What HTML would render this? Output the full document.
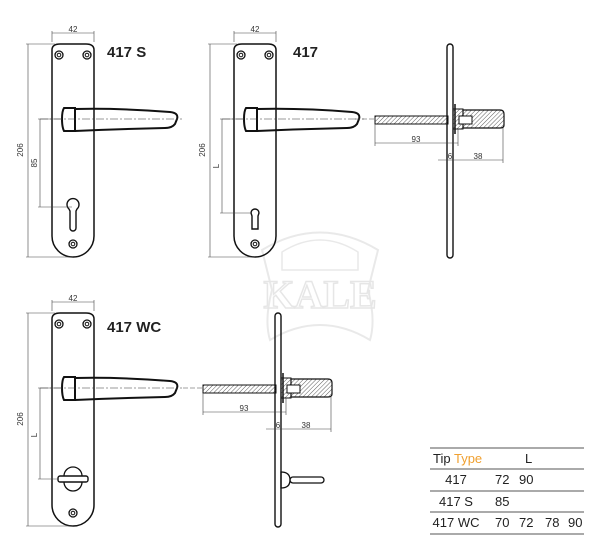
<!DOCTYPE html>
<html><head><meta charset="utf-8"><style>
html,body{margin:0;padding:0;background:#fff;}
svg{display:block;}
.t{font-family:"Liberation Sans",sans-serif;}
</style></head><body>
<svg width="600" height="551" viewBox="0 0 600 551" xmlns="http://www.w3.org/2000/svg">
<defs>
<pattern id="h" width="3" height="3" patternUnits="userSpaceOnUse" patternTransform="rotate(45)">
<line x1="0" y1="0" x2="0" y2="3" stroke="#333" stroke-width="0.8"/>
</pattern>
<g id="plate">
<path d="M52,50 Q52,44 60,44 L86,44 Q94,44 94,50 L94,236 A21,21 0 0 1 52,236 Z" fill="none" stroke="#111" stroke-width="1.5"/>
<circle cx="59" cy="55" r="4" fill="none" stroke="#111" stroke-width="1.3"/><circle cx="59" cy="55" r="1.8" fill="none" stroke="#111"/>
<circle cx="87" cy="55" r="4" fill="none" stroke="#111" stroke-width="1.3"/><circle cx="87" cy="55" r="1.8" fill="none" stroke="#111"/>
<circle cx="73" cy="244" r="4" fill="none" stroke="#111" stroke-width="1.3"/><circle cx="73" cy="244" r="1.8" fill="none" stroke="#111"/>
<path d="M64,108 L75,108 L75,131 L64,131 Q62,127 62,119 Q62,111 64,108 Z" fill="none" stroke="#111" stroke-width="2"/>
<path d="M75,109 Q120,108 170,112 Q179,113 177,119 L175,124 Q172,128 165,128 Q120,129 75,131" fill="none" stroke="#111" stroke-width="2"/>
<line x1="40" y1="119" x2="182" y2="119" stroke="#333" stroke-width="0.6" stroke-dasharray="8,2,2,2"/>
<line x1="52" y1="31" x2="52" y2="42" stroke="#444" stroke-width="0.6"/>
<line x1="94" y1="31" x2="94" y2="42" stroke="#444" stroke-width="0.6"/>
<line x1="52" y1="33" x2="94" y2="33" stroke="#444" stroke-width="0.6"/>
<text x="73" y="32" font-size="8" text-anchor="middle" class="t" fill="#333">42</text>
<line x1="26" y1="44" x2="55" y2="44" stroke="#444" stroke-width="0.6"/>
<line x1="26" y1="257" x2="73" y2="257" stroke="#444" stroke-width="0.6"/>
<line x1="28" y1="44" x2="28" y2="257" stroke="#444" stroke-width="0.6"/>
<text x="23" y="150" font-size="8" text-anchor="middle" class="t" fill="#333" transform="rotate(-90 23 150)">206</text>
</g>
</defs>

<g opacity="0.18" stroke="#888" fill="none" stroke-width="2">
<path d="M262,250 Q320,215 378,250 L368,290 Q376,320 370,340 Q320,310 270,340 Q264,320 272,290 Z"/>
<path d="M282,252 Q320,228 358,252 L358,270 L282,270 Z" stroke-width="1.5"/>
<text x="320" y="308" font-size="40" text-anchor="middle" font-family="Liberation Serif,serif" font-weight="bold" fill="none" stroke="#777" stroke-width="1.5">KALE</text>
</g>

<use href="#plate"/>
<text x="107" y="57" font-size="15" font-weight="bold" class="t" fill="#222">417 S</text>
<path d="M69,209 A6,6 0 1 1 77,209 L76,211 L76,228 A3,3 0 0 1 70,228 L70,211 Z" fill="none" stroke="#111" stroke-width="1.4"/>
<line x1="38" y1="119" x2="62" y2="119" stroke="#444" stroke-width="0.6"/>
<line x1="38" y1="207" x2="72" y2="207" stroke="#444" stroke-width="0.6"/>
<line x1="40" y1="119" x2="40" y2="207" stroke="#444" stroke-width="0.6"/>
<text x="37" y="163" font-size="8" text-anchor="middle" class="t" fill="#333" transform="rotate(-90 37 163)">85</text>

<g transform="translate(182,0)"><use href="#plate"/>
<path d="M69,213 A4,4 0 1 1 77,213 L76,216 L76,229 L70,229 L70,216 Z" fill="none" stroke="#111" stroke-width="1.4"/>
<line x1="38" y1="119" x2="62" y2="119" stroke="#444" stroke-width="0.6"/>
<line x1="38" y1="213" x2="70" y2="213" stroke="#444" stroke-width="0.6"/>
<line x1="40" y1="119" x2="40" y2="213" stroke="#444" stroke-width="0.6"/>
<text x="37" y="166" font-size="8" text-anchor="middle" class="t" fill="#333" transform="rotate(-90 37 166)">L</text>
</g>
<text x="293" y="57" font-size="15" font-weight="bold" class="t" fill="#222">417</text>

<g id="side">
<rect x="447" y="44" width="6" height="214" rx="3" fill="none" stroke="#111" stroke-width="1.4"/>
<rect x="375" y="116" width="73" height="8" fill="url(#h)" stroke="#111" stroke-width="1"/>
<rect x="453" y="109" width="10" height="20" fill="url(#h)" stroke="#111" stroke-width="1"/>
<path d="M463,110 L500,110 Q504,110 504,114 L504,125 Q504,128 500,128 L463,128 Z" fill="url(#h)" stroke="#111" stroke-width="1.2"/>
<rect x="459" y="116" width="13" height="8" fill="#fff" stroke="#111" stroke-width="1"/>
<line x1="455" y1="104" x2="455" y2="134" stroke="#111" stroke-width="1.5"/>
<line x1="355" y1="119" x2="375" y2="119" stroke="#444" stroke-width="0.6" stroke-dasharray="5,2"/>
<line x1="375" y1="124" x2="375" y2="146" stroke="#444" stroke-width="0.6"/>
<line x1="458" y1="129" x2="458" y2="146" stroke="#444" stroke-width="0.6"/>
<line x1="375" y1="143" x2="458" y2="143" stroke="#444" stroke-width="0.6"/>
<text x="416" y="142" font-size="8" text-anchor="middle" class="t" fill="#333">93</text>
<line x1="503" y1="128" x2="503" y2="163" stroke="#444" stroke-width="0.6"/>
<line x1="438" y1="160" x2="503" y2="160" stroke="#444" stroke-width="0.6"/>
<text x="450" y="159" font-size="8" text-anchor="middle" class="t" fill="#333">6</text>
<text x="478" y="159" font-size="8" text-anchor="middle" class="t" fill="#333">38</text>
</g>

<g transform="translate(0,269)"><use href="#plate"/>
<rect x="58" y="207" width="30" height="6" rx="2" fill="none" stroke="#111" stroke-width="1.4"/>
<path d="M64,207 A9,9 0 0 1 82,207" fill="none" stroke="#111" stroke-width="1.3"/>
<path d="M64,213 A9,9 0 0 0 82,213" fill="none" stroke="#111" stroke-width="1.3"/>
<line x1="38" y1="119" x2="62" y2="119" stroke="#444" stroke-width="0.6"/>
<line x1="38" y1="210" x2="58" y2="210" stroke="#444" stroke-width="0.6"/>
<line x1="40" y1="119" x2="40" y2="210" stroke="#444" stroke-width="0.6"/>
<text x="37" y="166" font-size="8" text-anchor="middle" class="t" fill="#333" transform="rotate(-90 37 166)">L</text>
</g>
<text x="107" y="332" font-size="15" font-weight="bold" class="t" fill="#222">417 WC</text>

<g transform="translate(-172,269)"><use href="#side"/>
<path d="M453,203 Q462,203 462,211 Q462,219 453,219 Z" fill="none" stroke="#111" stroke-width="1.3"/>
<rect x="462" y="208" width="34" height="6" rx="3" fill="none" stroke="#111" stroke-width="1.3"/>
</g>

<g class="t" font-size="13" fill="#222">
<line x1="430" y1="448" x2="584" y2="448" stroke="#555"/>
<line x1="430" y1="469" x2="584" y2="469" stroke="#555"/>
<line x1="430" y1="491" x2="584" y2="491" stroke="#555"/>
<line x1="430" y1="512" x2="584" y2="512" stroke="#555"/>
<line x1="430" y1="534" x2="584" y2="534" stroke="#555"/>
<text x="433" y="463">Tip <tspan fill="#f0a030">Type</tspan></text>
<text x="525" y="463">L</text>
<text x="456" y="484" text-anchor="middle">417</text><text x="495" y="484">72</text><text x="519" y="484">90</text>
<text x="456" y="506" text-anchor="middle">417 S</text><text x="495" y="506">85</text>
<text x="456" y="527" text-anchor="middle">417 WC</text><text x="495" y="527">70</text><text x="519" y="527">72</text><text x="545" y="527">78</text><text x="568" y="527">90</text>
</g>
</svg>
</body></html>
